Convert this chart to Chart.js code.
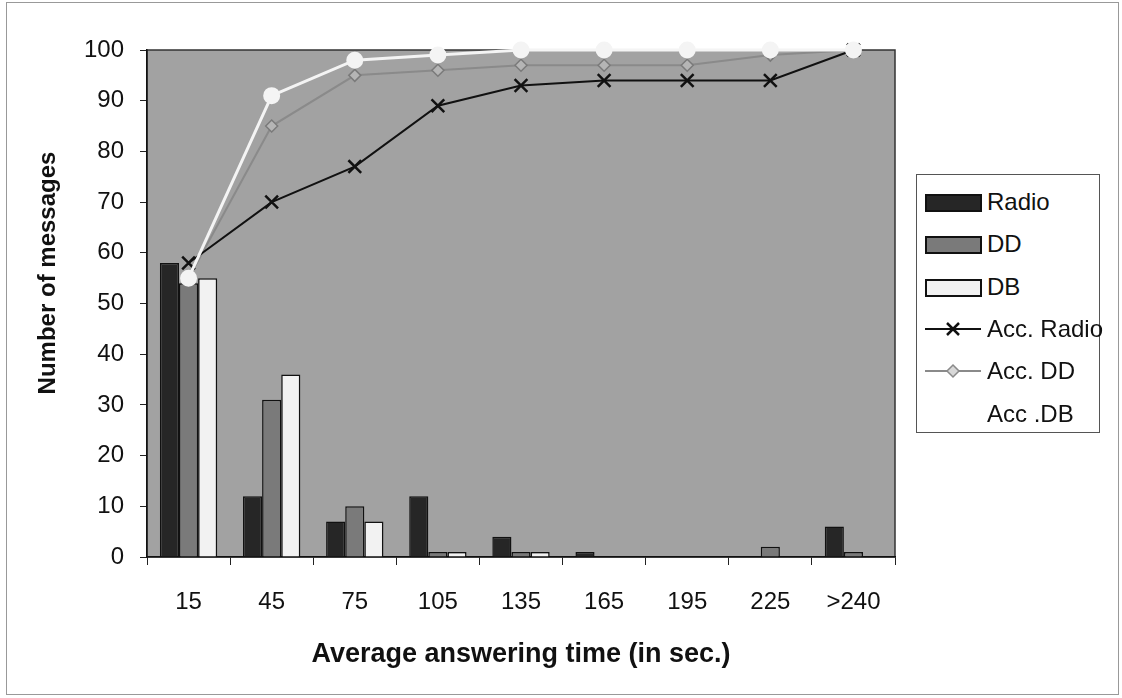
<!DOCTYPE html>
<html>
<head>
<meta charset="utf-8">
<script src="https://cdn.jsdelivr.net/npm/chart.js@4"></script>
<style>
  body { margin: 0; background: #fff; font-family: "Liberation Sans", Arial, sans-serif; }
  .wrap { position: relative; width: 1122px; height: 698px; }
  .frame { position: absolute; left: 6px; top: 2px; right: 3px; bottom: 3px; border: 1px solid #999; }
  .legend { position: absolute; left: 916px; top: 174px; width: 182px; height: 257px; border: 1px solid #555; background: #fff; }
  .item { position: absolute; left: 8px; height: 28px; font-size: 24px; color: #111; line-height: 28px; }
  .item span.txt { position: absolute; left: 62px; top: 0; white-space: nowrap; }
  .sw { position: absolute; left: 0; top: 6px; width: 53px; height: 14px; border: 2px solid #111; }
  .item svg { position: absolute; left: 0; top: 2px; }
</style>
</head>
<body>
<div class="wrap">
  <div class="frame"></div>
  <canvas id="canvas-bar" width="1122" height="698"></canvas>
  <div class="legend" id="legend"></div>
</div>
<script>
const categories = ["15", "45", "75", "105", "135", "165", "195", "225", ">240"];
const radio = [58, 12, 7, 12, 4, 1, 0, 0, 6];
const dd = [54, 31, 10, 1, 1, 0, 0, 2, 1];
const db = [55, 36, 7, 1, 1, 0, 0, 0, 0];
const accRadio = [58, 70, 77, 89, 93, 94, 94, 94, 100];
const accDD = [55, 85, 95, 96, 97, 97, 97, 99, 100];
const accDB = [55, 91, 98, 99, 100, 100, 100, 100, 100];
const yTicks = [0, 10, 20, 30, 40, 50, 60, 70, 80, 90, 100];

const canvasBar = document.getElementById("canvas-bar");
const tickFont = { family: "Liberation Sans", size: 24 };
const titleFont = { family: "Liberation Sans", size: 27, weight: "bold" };

// gray plot background + frame
const plotBg = {
  id: "plotBg",
  beforeDraw(chart) {
    const { ctx, chartArea: a } = chart;
    ctx.save();
    ctx.fillStyle = "#a2a2a2";
    ctx.fillRect(a.left, a.top, a.right - a.left, a.bottom - a.top);
    ctx.strokeStyle = "#333";
    ctx.lineWidth = 1.5;
    ctx.strokeRect(a.left, a.top, a.right - a.left, a.bottom - a.top);
    ctx.restore();
  },
};

// y title sits a bit above the middle of the axis in the original
const yTitle = {
  id: "yTitle",
  afterDraw(chart) {
    const ctx = chart.ctx;
    ctx.save();
    ctx.translate(48, 273);
    ctx.rotate(-Math.PI / 2);
    ctx.font = "bold 24px 'Liberation Sans'";
    ctx.fillStyle = "#111";
    ctx.textAlign = "center";
    ctx.textBaseline = "middle";
    ctx.fillText("Number of messages", 0, 0);
    ctx.restore();
  },
};

new Chart(canvasBar, {
  type: "bar",
  data: {
    labels: categories,
    datasets: [
      { label: "Radio", data: radio, backgroundColor: "#262626", borderColor: "#111", borderWidth: 1.5, order: 5 },
      { label: "DD", data: dd, backgroundColor: "#7a7a7a", borderColor: "#111", borderWidth: 1.5, order: 5 },
      { label: "DB", data: db, backgroundColor: "#f2f2f2", borderColor: "#111", borderWidth: 1.5, order: 5 },
      {
        type: "line", label: "Acc. Radio", data: accRadio, order: 1, clip: false,
        borderColor: "#111", borderWidth: 2, pointStyle: "crossRot", pointRadius: 9,
        pointBorderColor: "#111", pointBorderWidth: 2.5, tension: 0,
      },
      {
        type: "line", label: "Acc. DD", data: accDD, order: 2, clip: false,
        borderColor: "#8a8a8a", borderWidth: 2, pointStyle: "rectRot", pointRadius: 6,
        pointBackgroundColor: "#b5b5b5", pointBorderColor: "#7a7a7a", pointBorderWidth: 1.5, tension: 0,
      },
      {
        type: "line", label: "Acc .DB", data: accDB, order: 0, clip: false,
        borderColor: "#f4f4f4", borderWidth: 3, pointStyle: "circle", pointRadius: 7,
        pointBackgroundColor: "#f4f4f4", pointBorderColor: "#f4f4f4", tension: 0,
      },
    ],
  },
  options: {
    responsive: false,
    animation: false,
    layout: { padding: { left: 36, right: 227, top: 50, bottom: 27 } },
    datasets: { bar: { categoryPercentage: 0.69, barPercentage: 1 } },
    plugins: { legend: { display: false }, tooltip: { enabled: false } },
    scales: {
      x: {
        offset: true,
        grid: { offset: true, drawOnChartArea: false, tickLength: 8, color: "#222", lineWidth: 1 },
        border: { color: "#111", width: 1.5 },
        ticks: { font: tickFont, color: "#111", padding: 23, maxRotation: 0 },
        title: { display: true, text: "Average answering time (in sec.)", font: titleFont, color: "#111", padding: 0 },
        afterFit(scale) { scale.height = 698 - 557 - 27; },
      },
      y: {
        min: 0,
        max: 100,
        afterBuildTicks(scale) { scale.ticks = yTicks.map(v => ({ value: v })); },
        grid: { drawOnChartArea: false, tickLength: 7, color: "#222", lineWidth: 1 },
        border: { color: "#111", width: 1.5 },
        ticks: { font: tickFont, color: "#111", padding: 16 },
        title: { display: false },
        afterFit(scale) { scale.width = 147 - 36; },
      },
    },
  },
  plugins: [plotBg, yTitle],
});

// legend on the right
const legendItems = [
  { text: "Radio", kind: "bar", fill: "#262626" },
  { text: "DD", kind: "bar", fill: "#7a7a7a" },
  { text: "DB", kind: "bar", fill: "#f2f2f2" },
  { text: "Acc. Radio", kind: "cross" },
  { text: "Acc. DD", kind: "diamond" },
  { text: "Acc .DB", kind: "none" },
];
const legend = document.getElementById("legend");
legendItems.forEach((it, i) => {
  const d = document.createElement("div");
  d.className = "item";
  d.style.top = (13 + i * 42.3) + "px";
  let sym = "";
  if (it.kind === "bar") {
    sym = '<div class="sw" style="background:' + it.fill + '"></div>';
  } else if (it.kind === "cross") {
    sym = '<svg width="56" height="24"><line x1="0" y1="12" x2="56" y2="12" stroke="#111" stroke-width="2"/>' +
      '<line x1="22" y1="6" x2="34" y2="18" stroke="#111" stroke-width="2.5"/><line x1="34" y1="6" x2="22" y2="18" stroke="#111" stroke-width="2.5"/></svg>';
  } else if (it.kind === "diamond") {
    sym = '<svg width="56" height="24"><line x1="0" y1="12" x2="56" y2="12" stroke="#8a8a8a" stroke-width="2"/>' +
      '<polygon points="28,6 34,12 28,18 22,12" fill="#d8d8d8" stroke="#8a8a8a" stroke-width="1.5"/></svg>';
  }
  d.innerHTML = sym + '<span class="txt">' + it.text + "</span>";
  legend.appendChild(d);
});
</script>
</body>
</html>
